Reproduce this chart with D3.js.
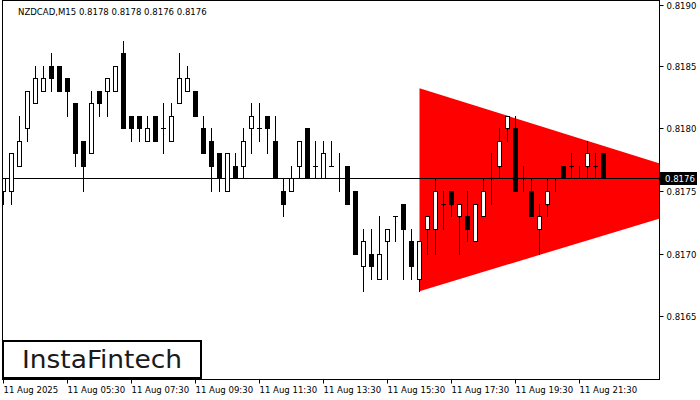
<!DOCTYPE html>
<html><head><meta charset="utf-8">
<script src="https://cdn.jsdelivr.net/npm/d3@7"></script>
<style>
html,body{margin:0;padding:0;background:#fff;}
svg{display:block;}
text{font-family:"DejaVu Sans Condensed","DejaVu Sans",sans-serif;}
</style></head>
<body>
<svg id="c" width="700" height="400"></svg>
<script>
const symbolTitle = "NZDCAD,M15  0.8178 0.8178 0.8176 0.8176";
const opens  = [0.8175,0.8175,0.8177,0.8180,0.8182,0.8183,0.8185,0.8185,0.8184,0.8182,0.8179,0.8178,0.8183,0.8183,0.8183,0.8186,0.8181,0.8181,0.8179,0.8181,0.8180,0.8179,0.8182,0.8183,0.8183,0.8180,0.8179,0.8178,0.8175,0.8177,0.8177,0.8180,0.8180,0.8181,0.8179,0.8175,0.8175,0.8177,0.8180,0.8177,0.8176,0.8177,0.8176,0.8177,0.8175,0.8169,0.8170,0.8168,0.8171,0.8173,0.8174,0.8171,0.8168,0.8172,0.8172,0.8174,0.8175,0.8173,0.8173,0.8171,0.8173,0.8176,0.8177,0.8180,0.8180,0.8176,0.8175,0.8172,0.8174,0.8176,0.8177,0.8177,0.8176,0.8177,0.8177,0.8178];
const highs  = [0.8176,0.8178,0.8181,0.8183,0.8185,0.8185,0.8186,0.8185,0.8184,0.8182,0.8179,0.8183,0.8183,0.8184,0.8185,0.8187,0.8181,0.8181,0.8181,0.8181,0.8182,0.8182,0.8186,0.8185,0.8183,0.8181,0.8180,0.8178,0.8178,0.8178,0.8180,0.8182,0.8182,0.8181,0.8181,0.8176,0.8177,0.8179,0.8180,0.8179,0.8179,0.8179,0.8178,0.8177,0.8175,0.8172,0.8172,0.8173,0.8172,0.8173,0.8174,0.8172,0.8171,0.8173,0.8176,0.8175,0.8175,0.8174,0.8175,0.8174,0.8176,0.8178,0.8180,0.8181,0.8181,0.8177,0.8176,0.8174,0.8176,0.8176,0.8177,0.8178,0.8177,0.8179,0.8178,0.8178];
const lows   = [0.8174,0.8174,0.8177,0.8179,0.8182,0.8183,0.8183,0.8183,0.8181,0.8177,0.8175,0.8178,0.8181,0.8181,0.8183,0.8180,0.8179,0.8179,0.8179,0.8179,0.8178,0.8179,0.8182,0.8183,0.8181,0.8178,0.8175,0.8175,0.8175,0.8176,0.8176,0.8178,0.8179,0.8178,0.8176,0.8173,0.8175,0.8176,0.8176,0.8176,0.8176,0.8177,0.8175,0.8174,0.8170,0.8167,0.8168,0.8168,0.8168,0.8171,0.8168,0.8168,0.8167,0.8170,0.8170,0.8172,0.8173,0.8170,0.8171,0.8171,0.8173,0.8174,0.8176,0.8179,0.8175,0.8175,0.8173,0.8170,0.8173,0.8175,0.8176,0.8176,0.8176,0.8176,0.8176,0.8176];
const closes = [0.8176,0.8178,0.8179,0.8183,0.8184,0.8184,0.8184,0.8183,0.8183,0.8178,0.8177,0.8182,0.8182,0.8184,0.8185,0.8180,0.8180,0.8180,0.8180,0.8179,0.8180,0.8181,0.8184,0.8184,0.8181,0.8178,0.8177,0.8176,0.8178,0.8176,0.8179,0.8181,0.8180,0.8180,0.8176,0.8174,0.8176,0.8179,0.8176,0.8177,0.8178,0.8177,0.8176,0.8174,0.8170,0.8171,0.8169,0.8170,0.8172,0.8173,0.8172,0.8169,0.8171,0.8173,0.8175,0.8174,0.8174,0.8174,0.8172,0.8174,0.8175,0.8176,0.8179,0.8181,0.8175,0.8176,0.8173,0.8173,0.8175,0.8176,0.8176,0.8177,0.8176,0.8178,0.8177,0.8176];
const timeTickBars = [0,8,16,24,32,40,48,56,64,72];
const timeLabels = ["11 Aug 2025","11 Aug 05:30","11 Aug 07:30","11 Aug 09:30","11 Aug 11:30","11 Aug 13:30","11 Aug 15:30","11 Aug 17:30","11 Aug 19:30","11 Aug 21:30"];
const priceTicks = [0.8165,0.8170,0.8175,0.8180,0.8185,0.8190];
const currentPrice = 0.8176;
// triangle pattern: [barIndex, price]
const triangleTop = [[52,0.81832],[82,0.81772]];
const triangleBottom = [[82,0.81728],[52,0.81670]];
const logoText = "InstaFintech";

const svg = d3.select("#c");
const L = 2, T = 0, R = 659, B = 379;
const x = d3.scaleLinear().domain([0, 82]).range([3.5, 659.5]);
const y = d3.scaleLinear().domain([0.8165, 0.8190]).range([316.3, 3.0]);
const py = p => Math.round(y(p));

svg.append("clipPath").attr("id","plot").append("rect")
  .attr("x", L+1).attr("y", T+1).attr("width", R-L-1).attr("height", B-T-1);

const plot = svg.append("g").attr("clip-path","url(#plot)");

// triangle
const tri = triangleTop.concat(triangleBottom);
plot.append("path")
  .attr("d", d3.line().x(d=>x(d[0])).y(d=>y(d[1]))(tri) + "Z")
  .attr("fill","#ff0000");

// current price line
plot.append("line")
  .attr("x1", L).attr("x2", R)
  .attr("y1", py(currentPrice)+0.5).attr("y2", py(currentPrice)+0.5)
  .attr("stroke","#000").attr("stroke-width",1);

// candles
const data = opens.map((o,i)=>({i, o, h:highs[i], l:lows[i], c:closes[i]}));
const cg = plot.append("g");
data.forEach(d=>{
  const cx = Math.round(x(d.i)-0.5)+0.5;
  cg.append("line").attr("x1",cx).attr("x2",cx)
    .attr("y1", py(d.h)).attr("y2", py(d.l)+1)
    .attr("stroke","#000").attr("stroke-width",1);
  const top = py(Math.max(d.o,d.c)), bot = py(Math.min(d.o,d.c));
  if (d.o === d.c) {
    cg.append("line").attr("x1",cx-2.5).attr("x2",cx+2.5)
      .attr("y1", top+0.5).attr("y2", top+0.5)
      .attr("stroke","#000").attr("stroke-width",1);
  } else if (d.c > d.o) {
    cg.append("rect").attr("x",cx-2).attr("y",top+0.5)
      .attr("width",4).attr("height",bot-top)
      .attr("fill","#fff").attr("stroke","#000").attr("stroke-width",1);
  } else {
    cg.append("rect").attr("x",cx-2.5).attr("y",top)
      .attr("width",5).attr("height",bot-top+1)
      .attr("fill","#000");
  }
});

// frame
svg.append("rect").attr("x",L+0.5).attr("y",T+0.5).attr("width",R-L).attr("height",B-T)
  .attr("fill","none").attr("stroke","#000").attr("stroke-width",1);

// right axis
const ya = svg.append("g").attr("transform",`translate(${R+0.5},0)`)
  .call(d3.axisRight(y).tickValues(priceTicks).tickFormat(d3.format(".4f")).tickSize(4).tickPadding(3));
ya.select(".domain").remove();
ya.selectAll(".tick").attr("transform", d=>`translate(0,${Math.max(py(d)+0.5, 5.5)})`);
ya.selectAll(".tick line").attr("stroke","#000");
ya.selectAll(".tick text").attr("font-family","DejaVu Sans Condensed, DejaVu Sans, sans-serif")
  .attr("font-size","9.5px").attr("fill","#000");

// current price label
const cpY = py(currentPrice)+0.5;
svg.append("rect").attr("x",R+1).attr("y",cpY-6.5).attr("width",37).attr("height",13).attr("fill","#000");
svg.append("text").attr("x",R+6).attr("y",cpY).attr("dy","0.35em")
  .attr("font-size","9.5px").attr("fill","#fff").text(d3.format(".4f")(currentPrice));

// bottom axis
const xa = svg.append("g").attr("transform",`translate(0,${B+0.5})`)
  .call(d3.axisBottom(x).tickValues(timeTickBars).tickFormat((d,i)=>timeLabels[i]).tickSize(4).tickPadding(3));
xa.select(".domain").remove();
xa.selectAll(".tick").attr("transform", d=>`translate(${Math.round(x(d)-0.5)+0.5},0)`);
xa.selectAll(".tick line").attr("stroke","#000");
xa.selectAll(".tick text").attr("text-anchor","start").attr("x",0)
  .attr("font-family","DejaVu Sans Condensed, DejaVu Sans, sans-serif")
  .attr("font-size","9.5px").attr("fill","#000");

// title
svg.append("text").attr("x",18).attr("y",15).attr("font-size","9.5px").attr("fill","#000").text(symbolTitle);

// logo
svg.append("rect").attr("x",3).attr("y",341).attr("width",198).attr("height",37)
  .attr("fill","#fff").attr("stroke","#000").attr("stroke-width",2);
svg.append("text").attr("x",22).attr("y",368).attr("font-family","Inter, Lato, sans-serif")
  .attr("font-size","25px").attr("font-weight","500").attr("fill","#1a1a1a")
  .attr("textLength",160).attr("lengthAdjust","spacingAndGlyphs").text(logoText);
</script>
</body></html>
